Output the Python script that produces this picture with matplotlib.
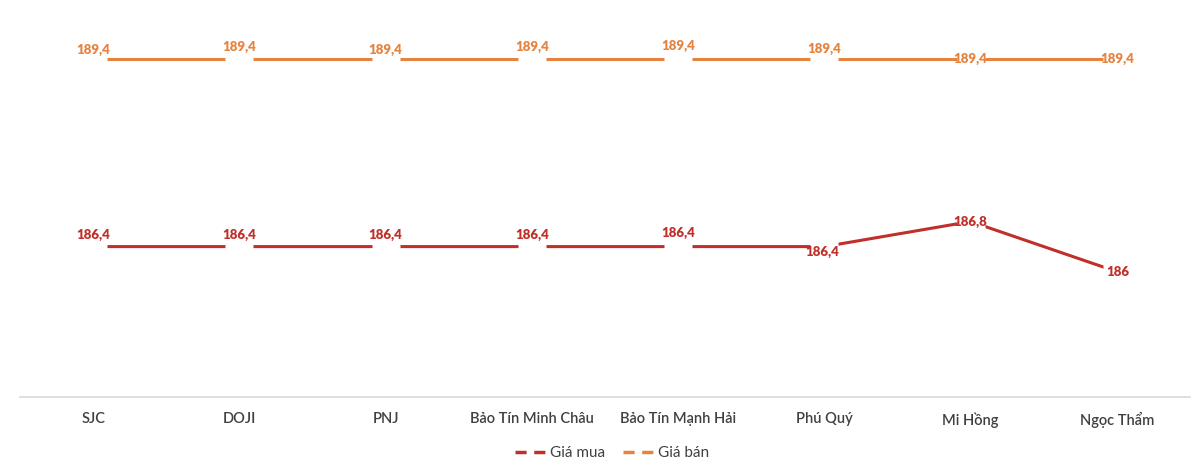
import matplotlib
matplotlib.use('Agg')
import matplotlib.pyplot as plt
from matplotlib.lines import Line2D

brands = ['SJC', 'DOJI', 'PNJ', 'Bảo Tín Minh Châu', 'Bảo Tín Mạnh Hải',
          'Phú Quý', 'Mi Hồng', 'Ngọc Thẩm']
buy = [186.4, 186.4, 186.4, 186.4, 186.4, 186.4, 186.8, 186.0]
sell = [189.4, 189.4, 189.4, 189.4, 189.4, 189.4, 189.4, 189.4]

RED = '#C0302A'
ORANGE = '#E5833F'

# label placement per point (pixel offsets)
buy_offsets = [(0, 12), (0, 12), (0, 12), (0, 12), (0, 14), (-2, -5), (0, 0), (1, 0)]
sell_offsets = [(0, 9), (0, 12), (0, 9), (0, 12), (0, 13), (0, 10), (0, 0), (0, 0)]


def fmt(v):
    s = f'{v:g}'
    return s.replace('.', ',')


plt.rcParams['font.family'] = ['Lato', 'DejaVu Sans']

fig = plt.figure(figsize=(12, 4.67), dpi=100)
ax = fig.add_axes([20 / 1200, 1 - 397 / 467, 1170 / 1200, 376 / 467])

x = list(range(len(brands)))
for values, color, offsets in [(buy, RED, buy_offsets), (sell, ORANGE, sell_offsets)]:
    ax.plot(x, values, color=color, lw=2.2, zorder=2, solid_capstyle='butt')
    ax.plot(x, values, ls='none', marker='s', markersize=19.5,
            markerfacecolor='white', markeredgecolor='none', zorder=3)
    for xi, v, (dx, dy) in zip(x, values, offsets):
        ax.annotate(fmt(v), (xi, v), xytext=(dx * 0.72, dy * 0.72), textcoords='offset points',
                    ha='center', va='center', color=color, fontsize=9.5,
                    fontweight='heavy', zorder=4)

ax.set_xlim(-0.5, len(brands) - 0.5)
ax.set_ylim(184, 190)
ax.set_xticks(x)
ax.set_xticklabels(brands, fontsize=10.5, color='#404040', fontweight='semibold')
ax.tick_params(axis='x', length=0, pad=11)
ax.set_yticks([])
for side in ['top', 'left', 'right']:
    ax.spines[side].set_visible(False)
ax.spines['bottom'].set_color('#D9D9D9')
ax.spines['bottom'].set_linewidth(1.2)

handles = [Line2D([], [], color=RED, lw=2.5, ls=(0, (3.2, 2.2))),
           Line2D([], [], color=ORANGE, lw=2.5, ls=(0, (3.2, 2.2)))]
fig.legend(handles, ['Giá mua', 'Giá bán'], loc='center', bbox_to_anchor=(0.51, 1 - 453 / 467),
           ncol=2, frameon=False, fontsize=11, handlelength=2.2, handletextpad=0.1,
           columnspacing=1.2, labelcolor='#404040')

fig.savefig('out.png', dpi=100)
